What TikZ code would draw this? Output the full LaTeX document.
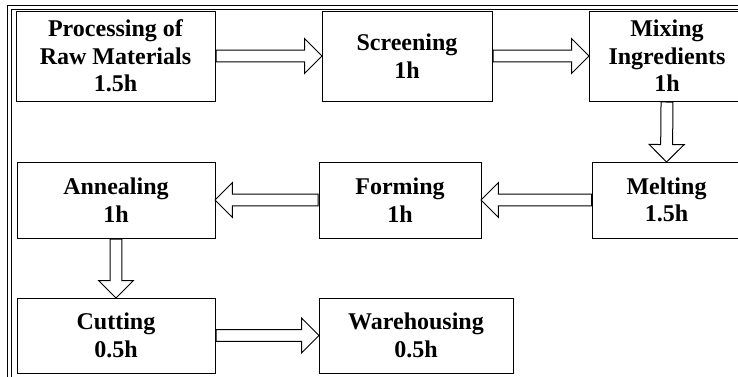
\documentclass[tikz,border=0pt]{standalone}
\usepackage{fontspec}
\setmainfont{Liberation Serif}
\usetikzlibrary{shapes.arrows,calc}

\newcommand{\stepfont}{\fontsize{18}{20.6}\selectfont\bfseries}

\tikzset{
  stepbox/.style={draw, line width=0.75pt, align=center, inner sep=0pt,
    minimum height=67.5pt, font=\stepfont},
  fatarrow/.style={draw, line width=0.75pt, single arrow, inner xsep=0pt,
    inner ysep=4.1pt, single arrow head extend=8.6pt,
    single arrow tip angle=90, single arrow head indent=0pt}
}

% hollow block arrow from one anchor to another
\newcommand{\blockarrow}[2]{%
  \path let \p1=(#1), \p2=(#2),
    \n1={veclen(\x2-\x1,\y2-\y1)}, \n2={atan2(\y2-\y1,\x2-\x1)} in
    node[fatarrow, minimum height=\n1, rotate=\n2, anchor=tail] at (\p1) {};}

\begin{document}
\begin{tikzpicture}[x=0.75pt, y=-0.75pt]

  \useasboundingbox (0,0) rectangle (738,376);

  % --- outer double frame (cut off at right and bottom) ---
  \draw[line width=0.75pt, double, double distance=1.9pt] (9.75,7.75) rectangle (800,420);

  % --- first row ---
  \node[stepbox, minimum width=149.25pt] (raw) at (115.5,56) {Processing of\\Raw Materials\\1.5h};
  \node[stepbox, minimum width=127.5pt] (screen) at (407,56) {Screening\\1h};
  \node[stepbox, minimum width=117pt] (mix) at (667,56) {Mixing\\Ingredients\\1h};

  % --- second row ---
  \node[stepbox, minimum width=148.5pt, minimum height=57pt] (anneal) at (116,200) {Annealing\\1h};
  \node[stepbox, minimum width=121.5pt, minimum height=57pt] (form) at (400,200) {Forming\\1h};
  \node[stepbox, minimum width=111pt, minimum height=57pt] (melt) at (666.5,200) {Melting\\1.5h};

  % --- third row ---
  \node[stepbox, minimum width=148.5pt, minimum height=56.25pt] (cut) at (116,335.5) {Cutting\\0.5h};
  \node[stepbox, minimum width=145.5pt, minimum height=56.25pt] (store) at (416,335.5) {Warehousing\\0.5h};

  % --- block arrows ---
  \blockarrow{raw.east}{screen.west}
  \blockarrow{screen.east}{mix.west}
  \blockarrow{mix.south}{melt.north}
  \blockarrow{melt.west}{form.east}
  \blockarrow{form.west}{anneal.east}
  \blockarrow{anneal.south}{cut.north}
  \blockarrow{cut.east}{store.west}

\end{tikzpicture}
\end{document}
